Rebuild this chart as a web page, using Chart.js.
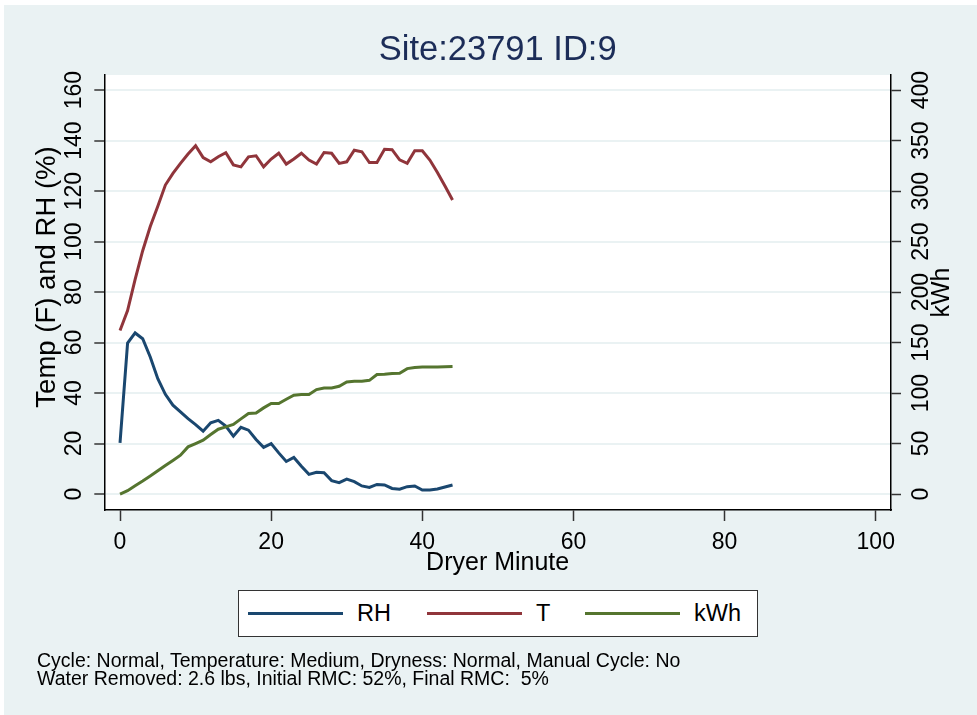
<!DOCTYPE html>
<html>
<head>
<meta charset="utf-8">
<script src="https://cdn.jsdelivr.net/npm/chart.js@4.4.1/dist/chart.umd.min.js"></script>
<style>
  body { margin: 0; background: #fff; font-family: "Liberation Sans", Arial, sans-serif; }
  #wrap { position: relative; width: 977px; height: 715px; overflow: hidden; }
  #panel { position: absolute; left: 4px; top: 5px; right: 0; bottom: 0; background: #eaf2f3; }
  #chart { position: absolute; left: 0; top: 0; }
  #legend { position: absolute; left: 238px; top: 590px; width: 518px; height: 45px;
            background: #fff; border: 1px solid #333; }
  .swatch { position: absolute; top: 21px; width: 95px; height: 3px; }
  .lab { position: absolute; top: 9px; font-size: 23.5px; line-height: 26px; color: #000; }
  #note { position: absolute; left: 37px; top: 651px; font-size: 19.5px; line-height: 18px; color: #000; }
</style>
</head>
<body>
<div id="wrap">
  <div id="panel"></div>
  <canvas id="chart" width="977" height="715"></canvas>
  <div id="legend"></div>
  <div id="note">Cycle: Normal, Temperature: Medium, Dryness: Normal, Manual Cycle: No<br>Water Removed: 2.6 lbs, Initial RMC: 52%, Final RMC: &nbsp;5%</div>
</div>
<script>
// dryer run readings, one per minute
var minutes = [0, 1, 2, 3, 4, 5, 6, 7, 8, 9, 10, 11, 12, 13, 14, 15, 16, 17, 18, 19, 20, 21, 22,
  23, 24, 25, 26, 27, 28, 29, 30, 31, 32, 33, 34, 35, 36, 37, 38, 39, 40, 41, 42, 43, 44];
var rh = [20.3, 59.8, 63.8, 61.5, 54.3, 45.7, 39.5, 35.2, 32.5, 29.9, 27.5, 24.9, 28.2, 29.2, 26.9,
  22.9, 26.4, 25.3, 21.6, 18.5, 20.0, 16.3, 12.9, 14.5, 11.0, 7.8, 8.6, 8.4, 5.3, 4.5, 5.9, 4.9,
  3.2, 2.6, 3.8, 3.6, 2.2, 1.9, 2.9, 3.2, 1.6, 1.6, 2.0, 2.8, 3.6];
var temp = [64.8, 72.7, 85, 96.4, 106, 114, 122.4, 127, 131, 134.7, 138, 133.3, 131.6, 133.6, 135.2,
  130.4, 129.6, 133.6, 134, 129.6, 132.7, 135, 130.7, 132.7, 135, 132.3, 130.7, 135.3, 135, 131,
  131.6, 136.2, 135.6, 131.3, 131.3, 136.6, 136.4, 132.4, 131, 136, 136, 132.3, 127.4, 122, 116.5];
var kwh = [0, 3.3, 8.2, 12.8, 17.8, 23, 28.3, 33.3, 38.5, 46.7, 50, 53.4, 59, 64.2, 66.5, 68.9,
  74.4, 79.7, 80.3, 85.3, 89.6, 89.6, 93.8, 97.8, 98.5, 98.5, 103.4, 105, 105, 106.7, 111, 111.7,
  111.7, 112.6, 118.3, 118.6, 119.3, 119.5, 124.2, 125.2, 125.8, 125.8, 125.8, 126.1, 126.3];

var xTicks = [0, 20, 40, 60, 80, 100];
var yTicks = [0, 20, 40, 60, 80, 100, 120, 140, 160];
var y1Ticks = [0, 50, 100, 150, 200, 250, 300, 350, 400];

var seriesNames = ['RH', 'T', 'kWh'];
var seriesColors = ['#1a476f', '#90353b', '#55752f'];

var FONT = '"Liberation Sans", Arial, sans-serif';
Chart.defaults.font.family = FONT;
Chart.defaults.color = '#000';

function pts(vals) {
  return minutes.map(function (m, i) { return { x: m, y: vals[i] }; });
}

// legend box, built from the series names
var legendEl = document.getElementById('legend');
var legendX = [9, 188, 346];
seriesNames.forEach(function (name, i) {
  var sw = document.createElement('div');
  sw.className = 'swatch';
  sw.style.left = legendX[i] + 'px';
  sw.style.background = seriesColors[i];
  legendEl.appendChild(sw);
  var lb = document.createElement('div');
  lb.className = 'lab';
  lb.style.left = (legendX[i] + 109) + 'px';
  lb.textContent = name;
  legendEl.appendChild(lb);
});

var plotBg = {
  id: 'plotBg',
  beforeDraw: function (chart) {
    var a = chart.chartArea, c = chart.ctx;
    c.save();
    c.fillStyle = '#fff';
    c.fillRect(a.left, a.top, a.right - a.left, a.bottom - a.top);
    c.restore();
  }
};

// vertical axis titles, both reading bottom to top
function vText(c, txt, x, y, size) {
  c.save();
  c.translate(x, y);
  c.rotate(-Math.PI / 2);
  c.font = size + 'px ' + FONT;
  c.fillStyle = '#000';
  c.textAlign = 'center';
  c.textBaseline = 'middle';
  c.fillText(txt, 0, 0);
  c.restore();
}

var axisTitles = {
  id: 'axisTitles',
  afterDraw: function (chart) {
    var a = chart.chartArea, c = chart.ctx;
    vText(c, 'Temp (F) and RH (%)', 47, 277, 27.5);
    vText(c, 'kWh', 942, (a.top + a.bottom) / 2, 25);
  }
};

function fixed(list) {
  return function (s) { s.ticks = list.map(function (v) { return { value: v }; }); };
}

new Chart(document.getElementById('chart').getContext('2d'), {
  type: 'line',
  data: {
    datasets: [
      { label: 'RH', data: pts(rh), yAxisID: 'y', borderColor: seriesColors[0], order: 3 },
      { label: 'T', data: pts(temp), yAxisID: 'y', borderColor: seriesColors[1], order: 2 },
      { label: 'kWh', data: pts(kwh), yAxisID: 'y1', borderColor: seriesColors[2], order: 1 }
    ]
  },
  options: {
    responsive: false,
    animation: false,
    elements: {
      line: { borderWidth: 3, tension: 0, fill: false },
      point: { radius: 0 }
    },
    layout: { padding: { top: 0, bottom: 135, left: 0, right: 0 } },
    plugins: {
      legend: { display: false },
      tooltip: { enabled: false },
      title: {
        display: true,
        text: 'Site:23791 ID:9',
        color: '#1c2d58',
        fullSize: false,
        font: { size: 34.5, weight: 'normal' },
        padding: { top: 30, bottom: 3.6 }
      }
    },
    scales: {
      x: {
        type: 'linear',
        position: 'bottom',
        min: -2.08,
        max: 102.02,
        afterBuildTicks: fixed(xTicks),
        afterFit: function (s) { s.height = 70; },
        ticks: { font: { size: 23 }, padding: 8, maxRotation: 0, color: '#000' },
        grid: { drawOnChartArea: false, tickLength: 11, tickColor: '#333', tickWidth: 1.5 },
        border: { color: '#000', width: 1.5 },
        title: { display: true, text: 'Dryer Minute', font: { size: 25 }, padding: { top: 0, bottom: 2 } }
      },
      y: {
        type: 'linear',
        position: 'left',
        min: -6.33,
        max: 166,
        afterBuildTicks: fixed(yTicks),
        afterFit: function (s) { s.width = 104.3; },
        ticks: { font: { size: 23 }, minRotation: 90, maxRotation: 90, crossAlign: 'center', padding: 0, color: '#000' },
        grid: { color: '#eaf2f3', lineWidth: 2, tickLength: 10, tickColor: '#333', tickWidth: 1.5 },
        border: { color: '#000', width: 1.5 }
      },
      y1: {
        type: 'linear',
        position: 'right',
        min: -15.83,
        max: 415,
        afterBuildTicks: fixed(y1Ticks),
        afterFit: function (s) { s.width = 86; },
        ticks: { font: { size: 23 }, minRotation: 90, maxRotation: 90, crossAlign: 'center', padding: 1, color: '#000' },
        grid: { drawOnChartArea: false, tickLength: 10, tickColor: '#333', tickWidth: 1.5 },
        border: { color: '#000', width: 1.5 }
      }
    }
  },
  plugins: [plotBg, axisTitles]
});
</script>
</body>
</html>
